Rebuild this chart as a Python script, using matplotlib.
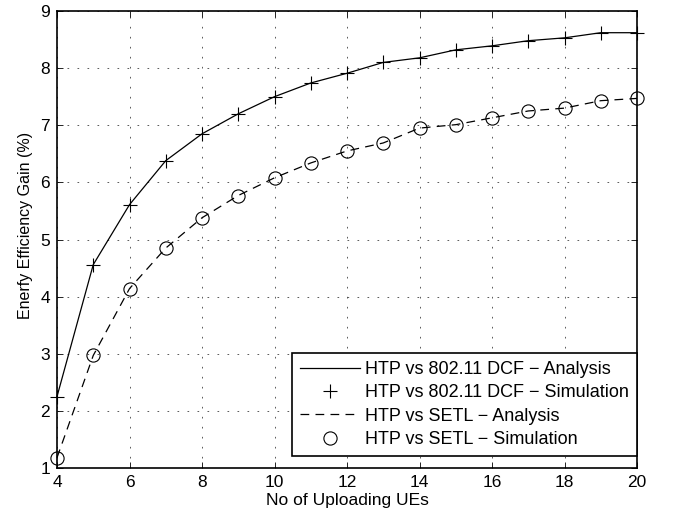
import matplotlib
matplotlib.use("Agg")
import matplotlib.pyplot as plt

plt.rcParams['font.family'] = ['Liberation Sans', 'DejaVu Sans']

ues = [4, 5, 6, 7, 8, 9, 10, 11, 12, 13, 14, 15, 16, 17, 18, 19, 20]
dcf_gain = [2.25, 4.56, 5.61, 6.38, 6.85, 7.20, 7.50, 7.74, 7.91, 8.10, 8.18,
            8.32, 8.39, 8.48, 8.53, 8.62, 8.62]
setl_gain = [1.18, 2.97, 4.14, 4.85, 5.38, 5.77, 6.08, 6.34, 6.55, 6.69, 6.95,
             7.01, 7.13, 7.25, 7.30, 7.43, 7.47]
xticks = [4, 6, 8, 10, 12, 14, 16, 18, 20]
yticks = [1, 2, 3, 4, 5, 6, 7, 8, 9]
labels = ['HTP vs 802.11 DCF \u2212 Analysis', 'HTP vs 802.11 DCF \u2212 Simulation',
          'HTP vs SETL \u2212 Analysis', 'HTP vs SETL \u2212 Simulation']

fig = plt.figure(figsize=(6.73, 5.17), dpi=100)
ax = fig.add_axes([57/673, 1-468/517, 580/673, 457/517])

ax.plot(ues, dcf_gain, '-', color='black', lw=0.9, label=labels[0], clip_on=False)
ax.plot(ues, dcf_gain, '+', color='black', ms=10, mew=0.8, ls='none', label=labels[1], clip_on=False)
ax.plot(ues, setl_gain, '--', color='black', lw=0.9, dashes=(7, 5), label=labels[2], clip_on=False)
ax.plot(ues, setl_gain, 'o', color='black', mfc='none', ms=9.5, mew=0.8, ls='none', label=labels[3], clip_on=False)

ax.set_xlim(4, 20)
ax.set_ylim(1, 9)
ax.set_xticks(xticks)
ax.set_yticks(yticks)
ax.tick_params(direction='in', top=True, right=True, labelsize=12.5, length=4, width=0.6, pad=5)
ax.grid(True, linestyle=(0, (2, 10)), color='0.25', lw=0.6)
for s in ax.spines.values():
    s.set_linewidth(1.2)

ax.set_xlabel('No of Uploading UEs', fontsize=12.5, labelpad=2)
ax.set_ylabel('Enerfy Efficiency Gain (%)', fontsize=11.5)
ax.yaxis.set_label_coords(-0.041, 0.53)

leg = ax.legend(loc='lower right', bbox_to_anchor=(1.0, 12/457), fontsize=13,
                fancybox=False, edgecolor='black', framealpha=1, handlelength=3.3,
                borderpad=0.45, labelspacing=0.35, handletextpad=0.3, borderaxespad=0)
leg.get_frame().set_linewidth(1.2)

fig.savefig('out.png', dpi=100)
